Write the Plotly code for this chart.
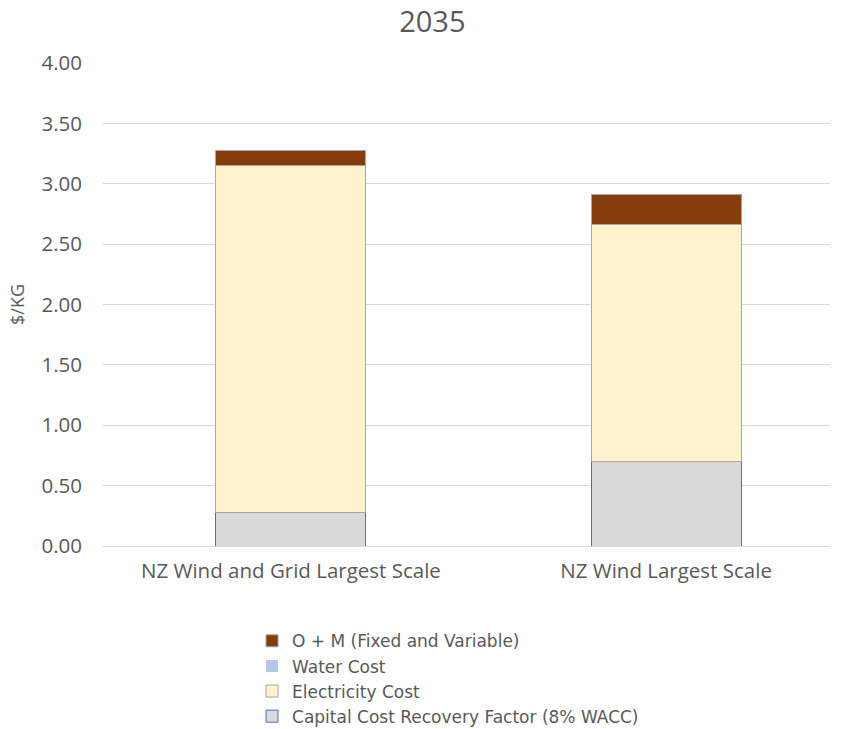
import plotly.graph_objects as go

# Levelised hydrogen cost components for 2035, $/kg
categories = ["NZ Wind and Grid Largest Scale", "NZ Wind Largest Scale"]
capital_cost = [0.28, 0.70]
electricity_cost = [2.87, 1.96]
water_cost = [0.003, 0.003]
om_cost = [0.12, 0.25]

y_ticks = [0, 0.5, 1.0, 1.5, 2.0, 2.5, 3.0, 3.5, 4.0]

TEXT = "#595959"
FONT = "Open Sans"
BAR_W = 0.4

fig = go.Figure()
fig.add_bar(name="Capital Cost Recovery Factor (8% WACC)", x=categories, y=capital_cost, width=BAR_W,
            marker=dict(color="#D9D9D9", line=dict(color="#4472C4", width=1)))
fig.add_bar(name="Electricity Cost", x=categories, y=electricity_cost, width=BAR_W,
            marker=dict(color="#FFF2CC", line=dict(color="#A6A6A6", width=1)))
fig.add_bar(name="Water Cost", x=categories, y=water_cost, width=BAR_W,
            marker=dict(color="#B4C7E7", line=dict(color="#B4C7E7", width=0)))
fig.add_bar(name="O + M (Fixed and Variable)", x=categories, y=om_cost, width=BAR_W,
            marker=dict(color="#843C0C", line=dict(color="#A6A6A6", width=1)))

fig.update_layout(
    width=846, height=729,
    barmode="stack",
    paper_bgcolor="white", plot_bgcolor="white",
    margin=dict(l=103, r=16, t=63, b=183, autoexpand=False),
    font=dict(family=FONT, color=TEXT, size=20),
    title=dict(text="2035", x=0.511, xanchor="center", y=0.97, yanchor="middle",
               font=dict(size=29, color=TEXT, family=FONT)),
    legend=dict(orientation="v", x=0.205, xanchor="left", y=-0.16, yanchor="top",
                traceorder="reversed", font=dict(size=17, color=TEXT, family="DejaVu Sans"),
                tracegroupgap=0, itemwidth=30),
    showlegend=True,
)
fig.update_yaxes(range=[0, 4], tickvals=y_ticks, tickformat=".2f",
                 showgrid=True, gridcolor="#D9D9D9", gridwidth=1, zeroline=False,
                 showline=False, ticks="", ticklabelstandoff=20,
                 tickfont=dict(size=20.5, color=TEXT),
                 title=dict(text="$/KG", font=dict(size=18, color=TEXT), standoff=12))
fig.update_xaxes(range=[-0.501, 1.437], showline=True, linecolor="#D9D9D9", linewidth=1,
                 ticks="", ticklabelstandoff=6,
                 tickfont=dict(size=20.5, color=TEXT))

fig.write_html("out.html")
